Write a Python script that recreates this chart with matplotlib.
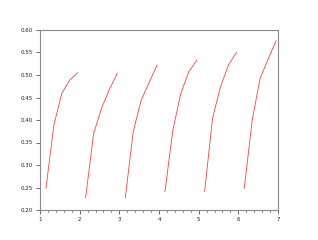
import matplotlib
matplotlib.use("Agg")
import matplotlib.pyplot as plt
from matplotlib.ticker import MultipleLocator

# six short curves, one per unit interval
offsets = [0.15, 0.35, 0.55, 0.75, 0.95]
starts = [1, 2, 3, 4, 5, 6]
y1 = [0.248, 0.389, 0.459, 0.489, 0.505]
y2 = [0.227, 0.369, 0.426, 0.468, 0.504]
y3 = [0.227, 0.374, 0.444, 0.483, 0.522]
y4 = [0.241, 0.378, 0.459, 0.507, 0.533]
y5 = [0.241, 0.404, 0.474, 0.522, 0.550]
y6 = [0.248, 0.400, 0.493, 0.535, 0.576]
series = [y1, y2, y3, y4, y5, y6]

xticks = [1, 2, 3, 4, 5, 6, 7]
yticks = [0.20, 0.25, 0.30, 0.35, 0.40, 0.45, 0.50, 0.55, 0.60]


def main():
    fig = plt.figure(figsize=(3.18, 2.4), dpi=100)
    ax = fig.add_axes([0.1258, 0.125, 0.7484, 0.75])

    for s, ys in zip(starts, series):
        xs = [s + o for o in offsets]
        ax.plot(xs, ys, color="#ff4040", linewidth=0.6)

    ax.set_xlim(1, 7)
    ax.set_ylim(0.2, 0.6)
    ax.set_xticks(xticks)
    ax.set_xticklabels([str(t) for t in xticks])
    ax.set_yticks(yticks)
    ax.set_yticklabels(["%.2f" % t for t in yticks])
    ax.xaxis.set_minor_locator(MultipleLocator(0.2))

    for sp in ax.spines.values():
        sp.set_color("#8a8a8a")
        sp.set_linewidth(0.8)
    ax.tick_params(which="major", length=3, width=0.6, color="#555555",
                   labelsize=4, pad=2, labelcolor="#222222")
    ax.tick_params(which="minor", length=1.5, width=0.6, color="#555555")

    fig.savefig("out.png", dpi=100)


if __name__ == "__main__":
    main()
